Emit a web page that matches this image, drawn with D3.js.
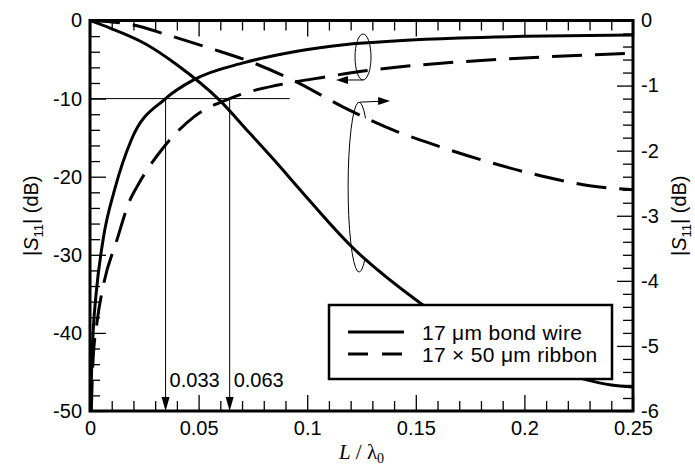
<!DOCTYPE html>
<html>
<head>
<meta charset="utf-8">
<script src="https://cdn.jsdelivr.net/npm/d3@7"></script>
<style>
  body { margin: 0; background: #fff; }
  svg { display: block; font-family: "Liberation Sans", Arial, sans-serif; }
</style>
</head>
<body>
<svg width="695" height="468"></svg>
<script>
let width = 695, height = 468;

// tick labels
var xTicks = [0, 0.05, 0.1, 0.15, 0.2, 0.25]
var leftTicks = [0, -10, -20, -30, -40, -50]
var rightTicks = [0, -1, -2, -3, -4, -5, -6]

// |S11| rising curves, left axis (dB)
var wireRiseL = [0.0003, 0.0008, 0.0015, 0.003, 0.006, 0.0115, 0.019, 0.0348, 0.0477, 0.071, 0.094, 0.117, 0.142, 0.17, 0.2, 0.25]
var wireRiseDb = [-50, -44, -39.6, -34.5, -28.1, -21.5, -15.3, -10, -7.6, -5.4, -4.0, -3.1, -2.6, -2.25, -2.03, -1.86]
var ribbonRiseL = [0.0006, 0.0013, 0.0032, 0.006, 0.0124, 0.0184, 0.0216, 0.034, 0.048, 0.0643, 0.075, 0.086, 0.109, 0.125, 0.142, 0.17, 0.2, 0.25]
var ribbonRiseDb = [-50, -44, -38.7, -34.1, -28.1, -23.0, -21.3, -16.2, -12.3, -10, -9.0, -8.3, -7.2, -6.5, -5.95, -5.3, -4.8, -4.2]

// falling curves, right axis (dB)
var wireFallL = [0, 0.0095, 0.025, 0.040, 0.0595, 0.0735, 0.086, 0.0967, 0.1197, 0.152, 0.17, 0.19, 0.21, 0.225, 0.24, 0.25]
var wireFallDb = [0, -0.12, -0.35, -0.68, -1.22, -1.73, -2.19, -2.6, -3.45, -4.34, -4.75, -5.1, -5.35, -5.49, -5.6, -5.63]
var ribbonFallL = [0, 0.02, 0.0356, 0.0556, 0.0736, 0.0936, 0.1166, 0.1416, 0.155, 0.18, 0.212, 0.23, 0.25]
var ribbonFallDb = [0, -0.07, -0.22, -0.43, -0.63, -0.92, -1.33, -1.71, -1.87, -2.14, -2.42, -2.54, -2.6]

// -10 dB crossings (line positions as drawn, and their labels)
var crossL = [0.0348, 0.0643]
var crossLabels = ["0.033", "0.063"]

var svg = d3.select("svg")

var pLeft = 90, pRight = 633, pTop = 20.5, pBottom = 411

var x = d3.scaleLinear().domain([0, 0.25]).range([pLeft, pRight])
var yL = d3.scaleLinear().domain([-50, 0]).range([pBottom, pTop])
var yR = d3.scaleLinear().domain([-6, 0]).range([pBottom, pTop])

svg.append("defs").append("clipPath").attr("id", "plot")
    .append("rect")
    .attr("x", pLeft).attr("y", pTop)
    .attr("width", pRight - pLeft).attr("height", pBottom - pTop)

// minor ticks
var xMinor = d3.range(0, 26).filter(i => i % 5 != 0).map(i => i / 100)
var leftMinor = d3.range(0, 26).map(i => -i * 2).filter(v => v % 10 != 0)
var rightMinor = d3.range(0, 31).filter(i => i % 5 != 0).map(i => -i / 5)

function drawAxis(axis, tx, ty) {
  let g = svg.append("g")
    .attr("transform", "translate(" + tx + "," + ty + ")")
    .call(axis)
  g.select(".domain").remove()
  g.selectAll("line").attr("stroke", "#000").attr("stroke-width", 1.3)
  g.selectAll("text").attr("fill", "#000").style("font-size", "20px")
  return g
}

drawAxis(d3.axisBottom(x).tickValues(xTicks).tickSize(-16).tickPadding(10).tickFormat(d => String(d)), 0, pBottom)
drawAxis(d3.axisBottom(x).tickValues(xMinor).tickSize(-10).tickFormat(""), 0, pBottom)
drawAxis(d3.axisTop(x).tickValues(xTicks).tickSize(-16).tickFormat(""), 0, pTop)
drawAxis(d3.axisTop(x).tickValues(xMinor).tickSize(-10).tickFormat(""), 0, pTop)
drawAxis(d3.axisLeft(yL).tickValues(leftTicks).tickSize(-16).tickPadding(8).tickFormat(d => String(d)), pLeft, 0)
drawAxis(d3.axisLeft(yL).tickValues(leftMinor).tickSize(-10).tickFormat(""), pLeft, 0)
drawAxis(d3.axisRight(yR).tickValues(rightTicks).tickSize(-16).tickPadding(8).tickFormat(d => String(d)), pRight, 0)
drawAxis(d3.axisRight(yR).tickValues(rightMinor).tickSize(-10).tickFormat(""), pRight, 0)

// -10 dB guide and crossing markers
svg.append("line")
    .attr("x1", x(0)).attr("x2", x(0.092))
    .attr("y1", yL(-10)).attr("y2", yL(-10))
    .attr("stroke", "#000").attr("stroke-width", 1)

crossL.forEach((c, i) => {
  svg.append("line")
    .attr("x1", x(c)).attr("x2", x(c))
    .attr("y1", yL(-10)).attr("y2", yL(-50) - 10)
    .attr("stroke", "#000").attr("stroke-width", 1)
  svg.append("path")
    .attr("d", "M" + (x(c) - 4) + "," + (yL(-50) - 14) + "L" + (x(c) + 4) + "," + (yL(-50) - 14) + "L" + x(c) + "," + yL(-50) + "Z")
    .attr("fill", "#000")
  svg.append("text")
    .attr("x", x(c) + 4).attr("y", yL(-50) - 24)
    .style("font-size", "20px")
    .text(crossLabels[i])
})

// curves
var curves = [
  {xs: wireRiseL, ys: wireRiseDb, y: yL, dash: null},
  {xs: ribbonRiseL, ys: ribbonRiseDb, y: yL, dash: "30,13"},
  {xs: wireFallL, ys: wireFallDb, y: yR, dash: null},
  {xs: ribbonFallL, ys: ribbonFallDb, y: yR, dash: "30,13"}
]

curves.forEach(c => {
  let line = d3.line()
    .x(d => x(d[0]))
    .y(d => c.y(d[1]))
    .curve(d3.curveMonotoneX)
  svg.append("path")
    .datum(c.xs.map((v, i) => [v, c.ys[i]]))
    .attr("clip-path", "url(#plot)")
    .attr("d", line)
    .attr("fill", "none")
    .attr("stroke", "#000")
    .attr("stroke-width", 3)
    .attr("stroke-dasharray", c.dash)
})

// loops marking which axis each pair belongs to
function arrowHead(px, py, dir) {
  svg.append("path")
    .attr("d", "M" + px + "," + py + "L" + (px - dir * 12) + "," + (py - 4) + "L" + (px - dir * 12) + "," + (py + 4) + "Z")
    .attr("fill", "#000")
}

// upper loop -> left axis
var upCx = x(0.1257), upCy = yL(-4.67)
svg.append("ellipse")
    .attr("cx", upCx).attr("cy", upCy).attr("rx", 8).attr("ry", 23)
    .attr("fill", "none").attr("stroke", "#000").attr("stroke-width", 1)
svg.append("line")
    .attr("x1", upCx).attr("x2", upCx - 22)
    .attr("y1", upCy + 23).attr("y2", upCy + 23)
    .attr("stroke", "#000").attr("stroke-width", 1)
arrowHead(upCx - 27, upCy + 23, -1)

// lower loop -> right axis
var loCx = x(0.1239), loCy = yR(-2.56), rx = 11, ry = 85
var a1 = Math.asin(-0.81), a2 = Math.asin(0.835)
svg.append("path")
    .attr("d", "M" + (loCx + rx * Math.cos(a1)) + "," + (loCy + ry * Math.sin(a1)) +
      "A" + rx + "," + ry + " 0 1 0 " + (loCx + rx * Math.cos(a2)) + "," + (loCy + ry * Math.sin(a2)))
    .attr("fill", "none").attr("stroke", "#000").attr("stroke-width", 1)
svg.append("line")
    .attr("x1", loCx + 1).attr("x2", loCx + 26)
    .attr("y1", loCy - ry).attr("y2", loCy - ry - 1)
    .attr("stroke", "#000").attr("stroke-width", 1)
arrowHead(loCx + 31, loCy - ry - 1, 1)

// frame
svg.append("rect")
    .attr("x", pLeft).attr("y", pTop)
    .attr("width", pRight - pLeft).attr("height", pBottom - pTop)
    .attr("fill", "none").attr("stroke", "#000").attr("stroke-width", 3)

// legend
var lg = svg.append("g").attr("transform", "translate(329,305)")
lg.append("rect").attr("width", 283).attr("height", 74)
    .attr("fill", "#fff").attr("stroke", "#000").attr("stroke-width", 2.5)
var legendItems = [
  {label: "17 \u03bcm bond wire", dash: null},
  {label: "17 \u00d7 50 \u03bcm ribbon", dash: "20,14"}
]
legendItems.forEach((it, i) => {
  lg.append("line")
    .attr("x1", 19).attr("x2", 75)
    .attr("y1", 27 + i * 22).attr("y2", 27 + i * 22)
    .attr("stroke", "#000").attr("stroke-width", 3)
    .attr("stroke-dasharray", it.dash)
  lg.append("text")
    .attr("x", 93).attr("y", 34.5 + i * 22)
    .style("font-size", "21px")
    .style("letter-spacing", "0.3px")
    .text(it.label)
})

// axis titles
function sTitle(g) {
  g.append("tspan").text("|")
  g.append("tspan").attr("font-style", "italic").text("S")
  g.append("tspan").attr("dy", 5).style("font-size", "13px").text("11")
  g.append("tspan").attr("dy", -5).text("| (dB)")
}
svg.append("text")
    .attr("transform", "translate(38," + ((pTop + pBottom) / 2) + ") rotate(-90)")
    .attr("text-anchor", "middle").style("font-size", "20px")
    .call(sTitle)
svg.append("text")
    .attr("transform", "translate(686," + ((pTop + pBottom) / 2) + ") rotate(-90)")
    .attr("text-anchor", "middle").style("font-size", "20px")
    .call(sTitle)

var xt = svg.append("text")
    .attr("x", (pLeft + pRight) / 2).attr("y", 459)
    .attr("text-anchor", "middle")
    .style("font-family", "'Liberation Serif', 'Times New Roman', serif")
    .style("font-size", "21px")
xt.append("tspan").attr("font-style", "italic").text("L")
xt.append("tspan").text(" / \u03bb")
xt.append("tspan").attr("dy", 4).style("font-size", "14px").text("0")
</script>
</body>
</html>
